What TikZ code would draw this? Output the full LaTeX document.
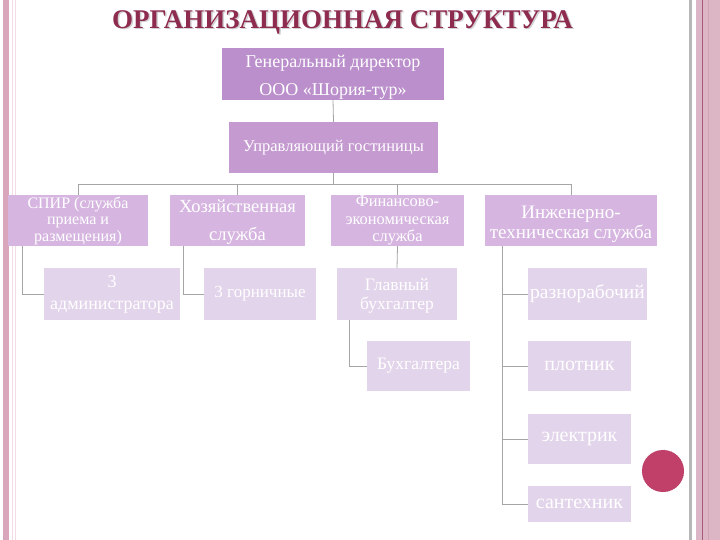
\documentclass[tikz,border=0pt]{standalone}
\usepackage{fontspec}
\setmainfont{Liberation Serif}
\definecolor{cgd}{RGB}{186,143,203}
\definecolor{cupr}{RGB}{196,154,208}
\definecolor{clvtwo}{RGB}{214,182,224}
\definecolor{clvthree}{RGB}{226,212,234}
\definecolor{ctitle}{RGB}{142,44,79}
\definecolor{cline}{RGB}{165,165,165}
\definecolor{cpinkbar}{RGB}{217,165,186}
\definecolor{cpinklight}{RGB}{242,220,229}
\definecolor{cpinkright}{RGB}{221,182,197}
\definecolor{cpinkdark}{RGB}{168,88,120}
\definecolor{ccircle}{RGB}{192,64,105}
\tikzset{
  box/.style={rectangle, inner sep=0pt, align=center, text=white},
  topbox/.style={box, fill=cgd},
  uprbox/.style={box, fill=cupr},
  lvtwo/.style={box, fill=clvtwo},
  lvthree/.style={box, fill=clvthree},
  boxtext/.style={inner sep=0pt, align=center, text=white},
  conn/.style={draw=cline, line width=0.8pt},
}
\begin{document}
\begin{tikzpicture}[x=1pt,y=-1pt]
\useasboundingbox (0,0) rectangle (720,540);
% frame
\fill[white] (0,0) rectangle (720,540);
\fill[cpinkbar] (3,0) rectangle (9,540);
\draw[cpinklight, line width=1pt] (12.5,0) -- (12.5,540);
\draw[cpinklight, line width=1pt] (15,0) -- (15,540);
\draw[cline!80, line width=2.5pt] (690.5,0) -- (690.5,540);
\fill[cpinkright] (696,0) rectangle (720,540);
\draw[cpinkdark, line width=1pt] (702.5,0) -- (702.5,540);
\draw[cpinkright!80!cpinkdark, line width=1pt] (708,0) -- (708,540);
% title
\node[text=gray!35, font=\rmfamily\bfseries\fontsize{27}{30}\selectfont] (titleshadow) at (344,23.5) {ОРГАНИЗАЦИОННАЯ СТРУКТУРА};
\node[text=ctitle, font=\rmfamily\bfseries\fontsize{27}{30}\selectfont] (title) at (342.5,22) {ОРГАНИЗАЦИОННАЯ СТРУКТУРА};
% boxes
\node[topbox, minimum width=222pt, minimum height=52pt] (gd) at (333,74) {};
\node[boxtext, font=\rmfamily\fontsize{18}{28}\selectfont] (gdt) at (333,77) {Генеральный директор\\ООО «Шория-тур»};
\node[uprbox, minimum width=209pt, minimum height=51pt, font=\rmfamily\fontsize{16.5}{20}\selectfont] (upr) at (333.5,147.5) {Управляющий гостиницы};
\node[lvtwo, minimum width=140pt, minimum height=51pt, font=\rmfamily\fontsize{16}{16.5}\selectfont] (spir) at (78,220.5) {СПИР (служба\\приема и\\размещения)};
\node[lvtwo, minimum width=135pt, minimum height=51pt] (hoz) at (237.5,220.5) {};
\node[boxtext, font=\rmfamily\fontsize{18.5}{28}\selectfont] (hozt) at (237.5,222.5) {Хозяйственная\\служба};
\node[lvtwo, minimum width=133pt, minimum height=51pt, font=\rmfamily\fontsize{16.4}{17.5}\selectfont] (fin) at (397.5,220.5) {Финансово-\\экономическая\\служба};
\node[lvtwo, minimum width=172pt, minimum height=51pt] (ing) at (571,220.5) {};
\node[boxtext, font=\rmfamily\fontsize{19}{20}\selectfont] (ingt) at (571,224.5) {Инженерно-\\техническая служба};
\node[lvthree, minimum width=136pt, minimum height=52pt, font=\rmfamily\fontsize{18}{22}\selectfont] (adm) at (112,294) {3\\администратора};
\node[lvthree, minimum width=112pt, minimum height=52pt, font=\rmfamily\fontsize{17}{20}\selectfont] (gor) at (260,294) {3 горничные};
\node[lvthree, minimum width=120pt, minimum height=52pt] (glb) at (397,294) {};
\node[boxtext, font=\rmfamily\fontsize{17.5}{19}\selectfont] (glbt) at (397,295.5) {Главный\\бухгалтер};
\node[lvthree, minimum width=119pt, minimum height=52pt, font=\rmfamily\fontsize{19.5}{20}\selectfont] (raz) at (587.5,294) {разнорабочий};
\node[lvthree, minimum width=103pt, minimum height=50pt, font=\rmfamily\fontsize{17.5}{20}\selectfont] (buh) at (418.5,366) {Бухгалтера};
\node[lvthree, minimum width=103pt, minimum height=50pt, font=\rmfamily\fontsize{20}{20}\selectfont] (plot) at (579.5,366) {плотник};
\node[lvthree, minimum width=103pt, minimum height=50pt, font=\rmfamily\fontsize{20}{20}\selectfont] (el) at (579.5,439) {электрик};
\node[lvthree, minimum width=103pt, minimum height=36pt, font=\rmfamily\fontsize{20}{20}\selectfont] (san) at (579.5,504) {сантехник};
% circle
\node[circle, fill=ccircle, draw=ccircle!80!black, dotted, minimum size=42pt, inner sep=0pt] (dot) at (663,471) {};
% connectors
\coordinate (bus) at (333.5,184);
\draw[conn] (gd.south) -- (upr.north);
\draw[conn] (upr.south) -- (bus);
\draw[conn] (bus) -| (spir.north);
\draw[conn] (bus) -| (hoz.north);
\draw[conn] (bus) -| (fin.north);
\draw[conn] (bus) -| (ing.north);
\draw[conn] ([xshift=15pt]spir.south west) |- (adm.west);
\draw[conn] ([xshift=14pt]hoz.south west) |- (gor.west);
\draw[conn] (fin.south) -- (glb.north);
\draw[conn] ([xshift=13pt]glb.south west) |- (buh.west);
\draw[conn] ([xshift=18pt]ing.south west) |- (raz.west);
\draw[conn] ([xshift=18pt]ing.south west) |- (plot.west);
\draw[conn] ([xshift=18pt]ing.south west) |- (el.west);
\draw[conn] ([xshift=18pt]ing.south west) |- (san.west);
\end{tikzpicture}
\end{document}
